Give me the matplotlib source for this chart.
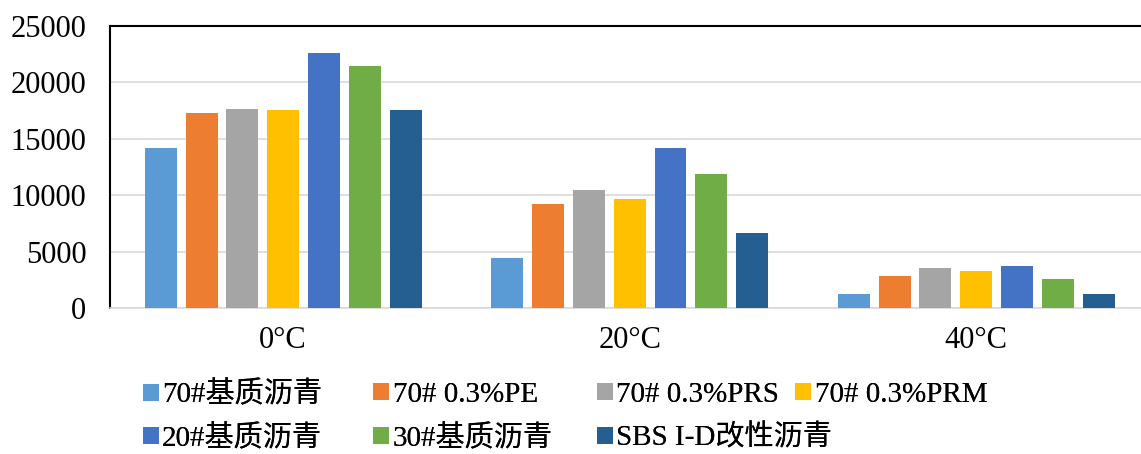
import numpy as np
import matplotlib.pyplot as plt

plt.rcParams['font.family'] = ['Liberation Serif', 'Noto Sans CJK SC']

temps = ['0°C', '20°C', '40°C']
series = ['70#基质沥青', '70# 0.3%PE', '70# 0.3%PRS', '70# 0.3%PRM',
          '20#基质沥青', '30#基质沥青', 'SBS I-D改性沥青']
colors = ['#5B9BD5', '#ED7D31', '#A5A5A5', '#FFC000',
          '#4472C4', '#70AD47', '#255E91']

base70 = [14150, 4460, 1210]
pe = [17320, 9220, 2870]
prs = [17640, 10430, 3520]
prm = [17540, 9660, 3310]
base20 = [22600, 14160, 3750]
base30 = [21500, 11880, 2540]
sbs = [17540, 6680, 1210]
values = [base70, pe, prs, prm, base20, base30, sbs]

fig = plt.figure(figsize=(11.41, 4.54), dpi=100)
ax = fig.add_axes([0.0964, 0.3216, 0.911, 0.621])

x = np.arange(len(temps))
pitch = 0.1178
width = 0.092
bars = []
for i, (vals, c) in enumerate(zip(values, colors)):
    b = ax.bar(x + (i - 3) * pitch, vals, width, color=c, zorder=3,
               label=series[i])
    bars.append(b)

ax.set_xlim(-0.5, 2.5)
ax.set_ylim(0, 25000)
ax.set_yticks(range(0, 25001, 5000))
ax.set_xticks(x)
ax.set_xticklabels(temps)
ax.tick_params(axis='both', length=0, labelsize=22)
ax.tick_params(axis='y', pad=17)
ax.tick_params(axis='x', pad=13)
ax.grid(axis='y', color='#D9D9D9', linewidth=1.2, zorder=0)

for s in ['left', 'top']:
    ax.spines[s].set_color('black')
    ax.spines[s].set_linewidth(1.5)
ax.spines['right'].set_visible(False)
ax.spines['bottom'].set_color('#D9D9D9')
ax.spines['bottom'].set_linewidth(1.2)

# legend entries laid out in two rows under the plot
leg_kw = dict(frameon=False, fontsize=21, handlelength=0.55, handleheight=0.55,
              handletextpad=0.12, borderpad=0, borderaxespad=0, loc='center left')
row1_x = [0.125, 0.327, 0.523, 0.697]
row2_x = [0.125, 0.327, 0.523]
for b, s, xp in zip(bars[:4], series[:4], row1_x):
    fig.add_artist(fig.legend([b], [s], bbox_to_anchor=(xp, 0.13), **leg_kw))
for b, s, xp in zip(bars[4:], series[4:], row2_x):
    fig.add_artist(fig.legend([b], [s], bbox_to_anchor=(xp, 0.035), **leg_kw))

fig.savefig('out.png', dpi=100)
